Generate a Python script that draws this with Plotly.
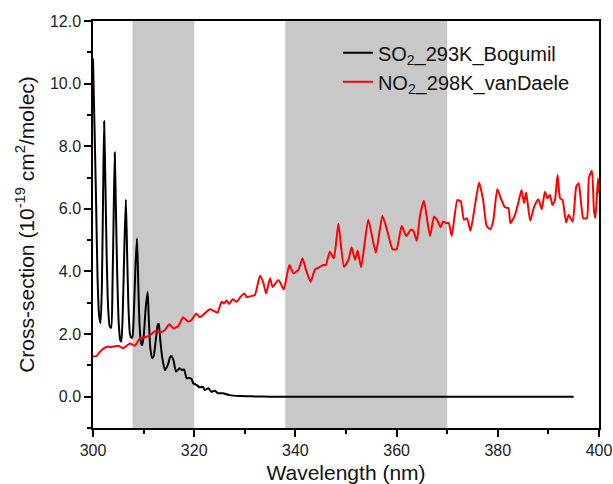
import plotly.graph_objects as go

# ---------------- data ----------------
so2_wl = [300.0, 300.3, 300.6, 300.9, 301.2, 301.5, 301.75, 302.0, 302.2, 302.45,
          302.7, 303.0, 303.3, 303.6, 303.85, 304.1, 304.3, 304.55, 304.8, 305.1,
          305.4, 305.6, 305.9, 306.2, 306.5, 306.75, 307.0, 307.3, 307.6, 307.8,
          308.1, 308.4, 308.7, 308.95, 309.2, 309.5, 309.7, 310.0, 310.4, 310.8,
          311.0, 311.3, 311.7, 312.0, 312.4, 312.8, 313.0, 313.3, 313.7, 314.2,
          314.6, 314.9, 315.2, 315.5, 315.9, 316.4, 317.1, 317.5, 318.0, 318.5,
          319.0, 319.5, 319.8, 320.5, 321.1, 321.7, 322.1, 322.8, 323.4, 324.1,
          324.7, 325.7, 327.0, 329.0, 332.0, 335.0, 395.0]
so2_val = [10.8, 8.6, 6.3, 3.8, 2.6, 2.35, 3.5, 6.5, 8.8, 6.8,
           4.5, 2.8, 2.25, 2.2, 3.5, 6.0, 7.8, 5.8, 3.8, 2.3,
           1.8, 1.76, 2.8, 4.8, 6.3, 4.5, 2.9, 2.0, 1.88, 1.9,
           2.8, 4.2, 5.05, 3.6, 2.3, 1.7, 1.65, 1.9, 2.8, 3.35,
           2.6, 1.6, 1.23, 1.3, 1.8, 2.3, 2.33, 1.8, 1.23, 0.85,
           0.95, 1.07, 1.25, 1.3, 1.17, 0.8, 0.91, 0.85, 0.87, 0.59,
           0.6, 0.56, 0.43, 0.37, 0.3, 0.32, 0.21, 0.27, 0.16, 0.19,
           0.11, 0.11, 0.05, 0.02, 0.01, 0.0, 0.0]

no2_wl = [300.0, 300.7, 301.4, 302.2, 303.0, 303.5, 304.0, 305.0, 306.0, 307.3,
          308.3, 309.3, 310.3, 311.3, 312.3, 313.2, 314.2, 315.1, 315.9, 316.9,
          317.8, 318.8, 319.5, 320.4, 321.1, 322.1, 323.1, 324.1, 324.6, 325.4,
          325.9, 326.4, 326.9, 327.6, 328.4, 329.1, 329.9, 330.4, 331.4, 332.0,
          333.0, 333.7, 334.2, 335.0, 335.5, 336.6, 337.0, 337.7, 338.8, 339.6,
          340.6, 341.4, 342.1, 343.0, 343.9, 344.7, 345.5, 346.0, 346.8, 347.6,
          348.5, 349.6, 350.5, 351.1, 351.8, 352.3, 353.0, 354.4, 355.9, 357.2,
          358.2, 359.2, 360.0, 361.0, 361.9, 362.8, 363.3, 364.0, 364.6, 365.4,
          366.6, 367.4, 368.0, 368.7, 369.2, 369.9, 370.3, 370.9, 372.0, 372.7,
          373.3, 373.9, 374.6, 375.5, 376.3, 377.1, 377.8, 378.5, 379.1, 379.9,
          380.6, 381.4, 382.1, 382.5, 383.4, 384.1, 384.7, 385.2, 385.6, 386.4,
          387.2, 388.0, 388.7, 389.3, 389.8, 390.3, 390.8, 391.3, 391.8, 392.3,
          392.8, 393.5, 394.0, 394.8, 395.5, 396.0, 396.4, 396.9, 397.6, 398.0,
          398.6, 399.0, 399.3, 399.8, 400.0]
no2_val = [1.28, 1.3, 1.44, 1.55, 1.6, 1.58, 1.6, 1.63, 1.55, 1.7,
           1.63, 1.87, 1.9, 1.97, 2.1, 2.05, 2.13, 2.31, 2.18, 2.26,
           2.54, 2.4, 2.45, 2.66, 2.54, 2.66, 2.79, 2.72, 2.68, 3.03,
           2.98, 3.07, 2.96, 3.11, 3.03, 3.18, 3.3, 3.18, 3.22, 3.25,
           3.86, 3.62, 3.3, 3.78, 3.5, 3.73, 3.65, 3.42, 4.21, 3.94,
           4.05, 4.42, 4.05, 3.67, 4.07, 4.13, 4.21, 4.2, 4.63, 4.42,
           5.52, 4.15, 4.37, 4.77, 4.37, 4.66, 4.13, 5.65, 4.6, 5.78,
           5.27, 4.71, 4.71, 5.45, 5.13, 5.33, 5.3, 4.98, 5.75, 6.26,
           5.13, 5.75, 5.65, 5.41, 5.59, 5.54, 5.55, 5.13, 6.28, 6.23,
           5.65, 5.7, 5.3, 6.12, 6.84, 6.28, 5.45, 5.35, 5.62, 6.63,
           6.34, 6.05, 6.02, 5.54, 5.8, 6.23, 6.6, 6.18, 6.52, 5.62,
           6.07, 6.31, 5.99, 6.55, 6.34, 6.44, 6.12, 6.28, 7.08, 6.34,
           6.28, 5.56, 5.8, 5.59, 6.71, 6.82, 6.28, 5.7, 5.7, 6.98,
           7.22, 5.97, 5.7, 6.98, 6.5]

band_starts = [307.8, 338.0]
band_ends = [320.0, 370.0]

x_range = [300, 400]
y_range = [-1, 12]

series_names = ["SO<sub>2</sub>_293K_Bogumil", "NO<sub>2</sub>_298K_vanDaele"]

FONT = "Liberation Sans, Arial, sans-serif"

fig = go.Figure()
fig.add_trace(go.Scatter(x=so2_wl, y=so2_val, mode="lines", name=series_names[0],
                         line=dict(color="#000000", width=2, shape="spline", smoothing=0.5)))
fig.add_trace(go.Scatter(x=no2_wl, y=no2_val, mode="lines", name=series_names[1],
                         line=dict(color="#ff0000", width=2, shape="spline", smoothing=0.5)))

for s, e in zip(band_starts, band_ends):
    fig.add_shape(type="rect", xref="x", yref="paper", x0=s, x1=e, y0=0, y1=1,
                  fillcolor="#c8c8c8", line=dict(width=0), layer="below")

axis_common = dict(showline=True, mirror=True, linecolor="#000000", linewidth=1.5,
                   showgrid=False, zeroline=False, ticks="outside", ticklen=7,
                   tickwidth=1.5, tickcolor="#000000",
                   tickfont=dict(family=FONT, size=16, color="#222222"))

fig.update_xaxes(range=x_range, dtick=20, tick0=300,
                 minor=dict(ticks="outside", ticklen=4, dtick=10, tickcolor="#000000", tickwidth=1.5),
                 title=dict(text="Wavelength (nm)", font=dict(family=FONT, size=21, color="#111111"),
                            standoff=13),
                 **axis_common)
fig.update_yaxes(range=y_range, dtick=2, tick0=0, tickformat=".1f",
                 minor=dict(ticks="outside", ticklen=4, dtick=1, tickcolor="#000000", tickwidth=1.5),
                 title=dict(text="Cross-section (10<sup>-19</sup> cm<sup>2</sup>/molec)",
                            font=dict(family=FONT, size=21, color="#111111"), standoff=10),
                 **axis_common)

fig.update_layout(
    width=613, height=484,
    margin=dict(l=93, r=14, t=21, b=56, autoexpand=False),
    plot_bgcolor="white", paper_bgcolor="white",
    font=dict(family=FONT, color="#111111"),
    legend=dict(x=0.484, y=0.970, xanchor="left", yanchor="top",
                bgcolor="rgba(0,0,0,0)", borderwidth=0,
                font=dict(family=FONT, size=20, color="#111111"),
                tracegroupgap=0),
    showlegend=True,
)

# remove the page's default body margin so the 613x484 figure fills the window exactly
fig.write_html("out.html",
               config={"displayModeBar": False},
               post_script="document.body.style.margin='0';document.body.style.overflow='hidden';")
